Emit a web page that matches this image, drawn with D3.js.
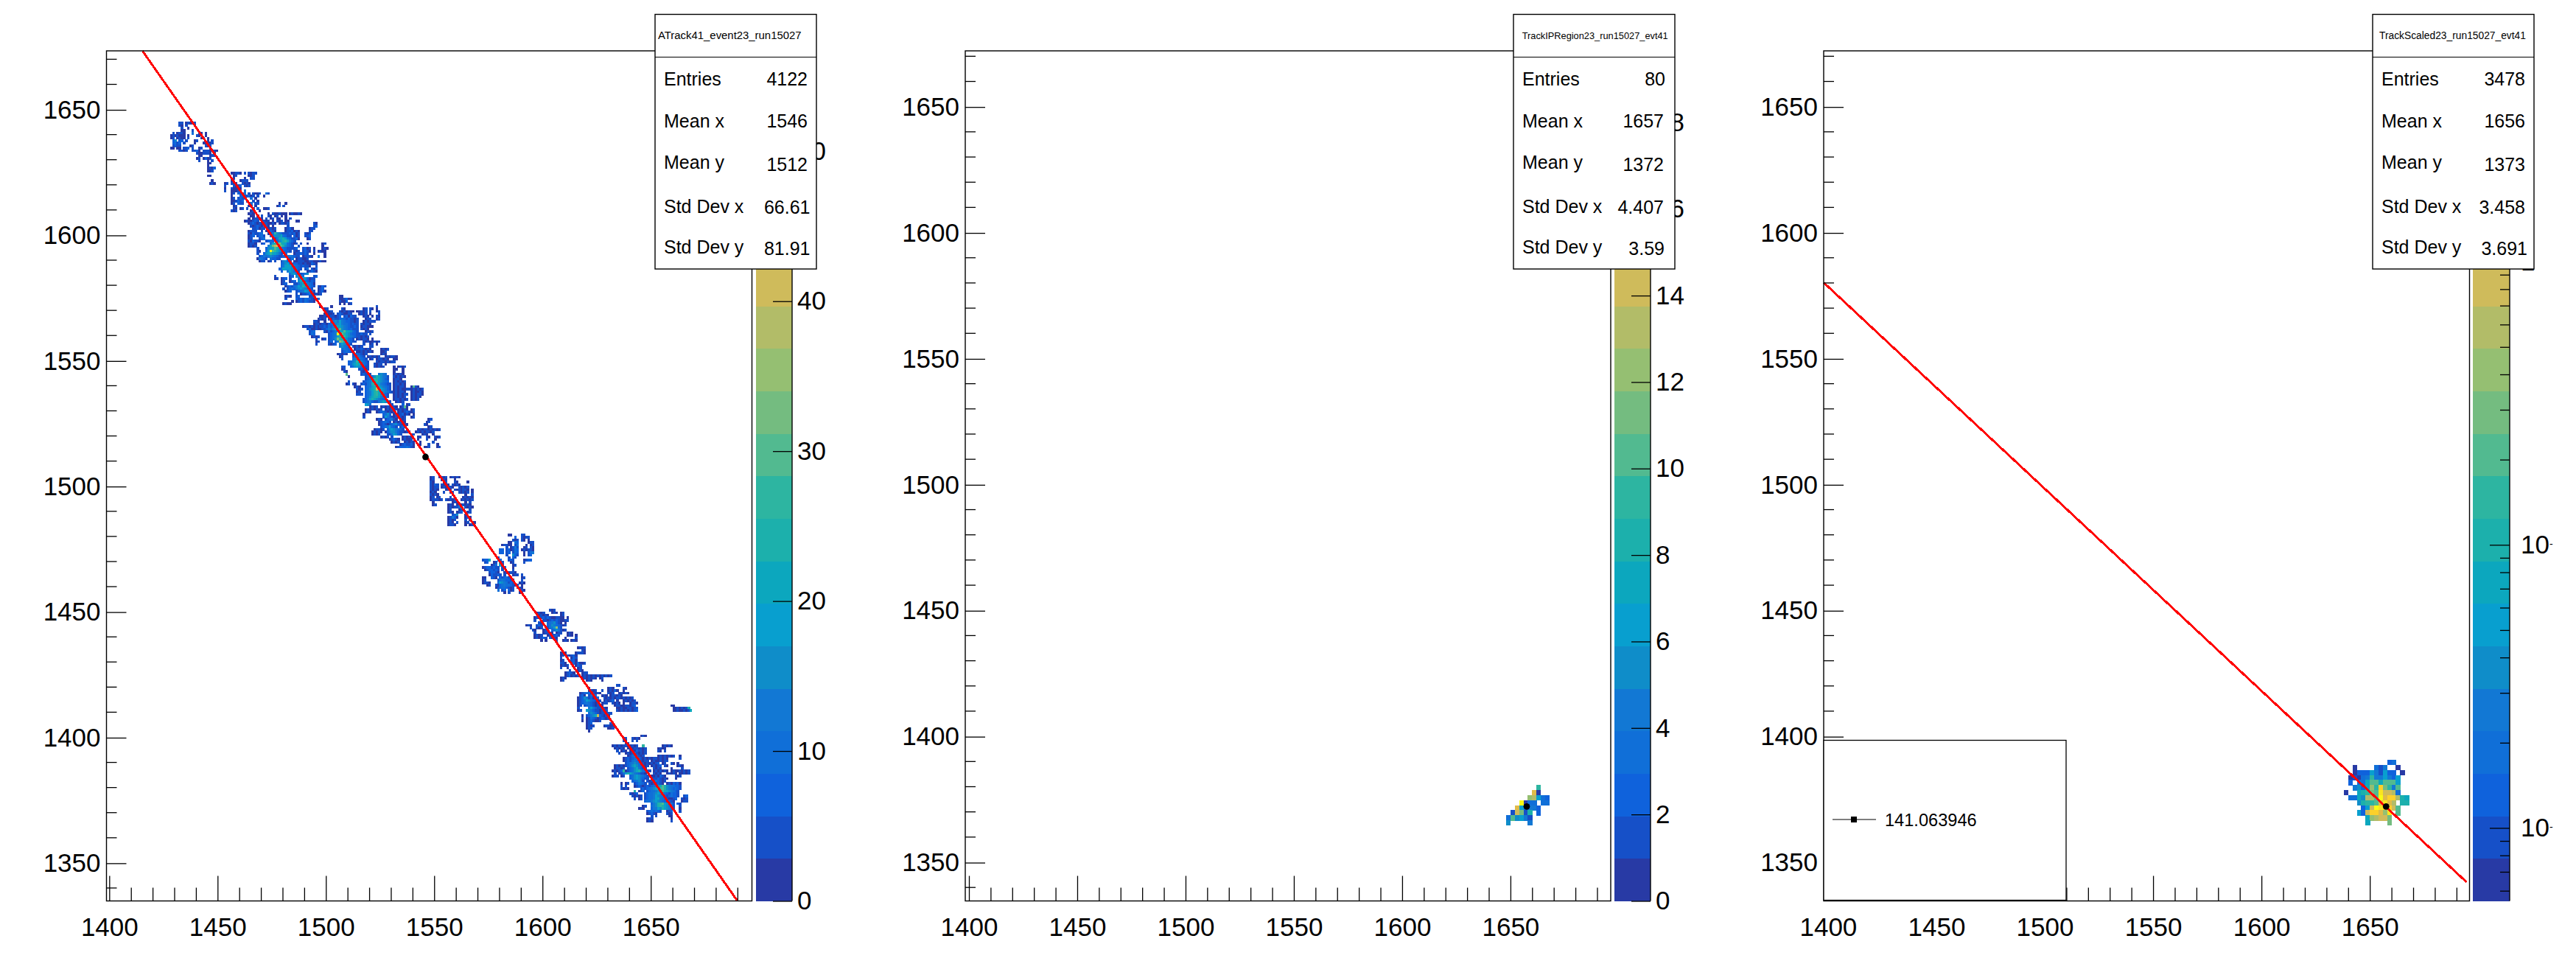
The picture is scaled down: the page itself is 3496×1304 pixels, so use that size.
<!DOCTYPE html>
<html><head><meta charset="utf-8">
<script src="https://cdn.jsdelivr.net/npm/d3@7"></script>
<style>html,body{margin:0;padding:0;background:#fff}svg{display:block}text{font-family:"Liberation Sans",Arial,sans-serif;fill:#000}</style>
</head><body><svg id="c" width="3496" height="1304"></svg>
<script>
// palette levels, darkest first
const palette=["#283AA5","#1650C8","#0F62DC","#106FD8","#1278D4","#0F8DC9","#089FCF","#0CA7BE","#1CB0AC","#2DB5A1","#52BA90","#74BC80","#95BF72","#B2BC68","#CFBB5B","#E0BB48","#F2C03A","#FDD02A","#FBE51E","#FAFB14"];
const xMajor=[1400,1450,1500,1550,1600,1650];
const yMajor=[1350,1400,1450,1500,1550,1600,1650];
const xMinor=[1410,1420,1430,1440,1460,1470,1480,1490,1510,1520,1530,1540,1560,1570,1580,1590,1610,1620,1630,1640,1660,1670,1680,1690];
const yMinor=[1340,1360,1370,1380,1390,1410,1420,1430,1440,1460,1470,1480,1490,1510,1520,1530,1540,1560,1570,1580,1590,1610,1620,1630,1640,1660,1670];
const zTicks1=[0,10,20,30,40,50];
const zTicks2=[0,2,4,6,8,10,12,14,16,18];
const zMajor3=[1e-2,1e-1,1];
const zMinor3=[6e-3,7e-3,8e-3,9e-3,2e-2,3e-2,4e-2,5e-2,6e-2,7e-2,8e-2,9e-2,2e-1,3e-1,4e-1,5e-1,6e-1,7e-1,8e-1,9e-1];
const statNames=["Entries","Mean x","Mean y","Std Dev x","Std Dev y"];
const stats1=["4122","1546","1512","66.61","81.91"];
const stats2=["80","1657","1372","4.407","3.59"];
const stats3=["3478","1656","1373","3.458","3.691"];
const titles=["ATrack41_event23_run15027","TrackIPRegion23_run15027_evt41","TrackScaled23_run15027_evt41"];
const fitLine1=[[1415.3,1673.2],[1690,1334.7]];
const fitLine3=[[1398,1580],[1694.6,1342]];
const means=[[1546,1511.5],[1657.5,1372],[1657.5,1372]];
const legendText="141.063946";

// panel 1 cells: strings of palette levels (base 20), one char per x unit, one row per y unit
const clusterA=[1428,1644,[
"    11 01001","    10 1   0","     1  0","     00   1"," 1 0110   3  00 0","0101000 0   10  0","01 0100 1     01 0"," 25 12 1   01    0 1"," 2312 1    0   00001"," 1211    01     101","00 00 112 1  01   1","    1101  1120 1110010","            1001110 0","             00   011","            01 0201","             1   0 1","                 00","                 0","                 0102","                 001","","                 00","","                   0","                  010"]];
const clusterC=[1453,1624,[
"   00110 1 1011","    01     001","    0    0  11","   0   0111","01 100  1010","1   1012 101","0  10000","1  00012 3","   01 2123 1 1001  31","   0   2211201 1  0","   01 1212  3 0","   001212 1  1 0","   01 211   3 11         0  0","    01     00 0         02 1","    10 01 1  1 2  001","   101      01  0","           010      0 1001000 010010","            00 0 1  10 01 0 0","           0 01100 1 01 00  0 1","         0100121 0101 0 101 00   00",
"           0121010110010 01101           10",
"            101210210 0      1           12",
"             112011 0101    0120       011",
"           0111  1 01210    0112010    11",
"           1021123  013954211121201  101",
"           012 1231  2355573211 201  112",
"           01   123   2147786321120   01",
"           102110  1232 256897421",
"           0110  12  3689b87632101 1  0      01",
"           0101     47bdf9a85321  1          0",
"               1   2567a8543211112  1201 0   010",
"               10  36ja97543221 101 1210 1 0100",
"               1  256976531 2   0112121  0    0",
"                1243454321122343211 01110  3  0",
"               04321 32211   213 011001",
"                011 01 1  14521 001110011000100",
"                          23564322110100210",
"                          24676543212110  1",
"                         23766654321 13 102",
"                          2  465321   01210",
"                              356321245",
"                       1      12 5643    12",
"                       01 012 1   47652011",
"                          01  012 57632121",
"                          012   1135764320",
"                            01213465874321 1021",
"                           1 123245654321  012",
"                            012  123465321 0120",
"                                 1 0112310101",
"                            010  12    112           00",
"                            1    21213221012         001201",
"                               0 012132110           1002",
"                           0100                      0 0 01"]];
const clusterD=[1489,1571,[
"        0    0                    1",
"          01      10        01 10 0",
"           001   1010100 00101 1  01",
"          01001 1210011   0101 0   1",
"        0010011012 120211   010 0 10",
"       0101 10211232121101   011  01",
"     110  0  2354643221101  010111",
"     011011023345643321211 10110",
"01101010112132467654321121 011000",
"  120010011243576a54322111 1010",
"   123    102124367a765321   0101",
"   132      1234j9a86532211211 1",
"    0101    123468a975432110101",
"      1  01 1235b9875321 010110 0",
"      01    12 24ca754211   10100101",
"      1     1012 465321     1  01 0",
"                 45431 10101   11",
"                  34321 01121010    0101",
"                  123211 00101010   001",
"                01010  1232101      010",
"                 01    123421 010101  010110",
"                  1    3454321 01 011010  00",
"                     2345975321   101101011",
"                     2356875321  1011 0",
"                  11  235653211  10101    0 0101",
"                  01      12101           00  0",
"                   10      101            0   0",
"                    a      121 1   3543   01010",
"                     0       12235875431  101010",
"                             12349865421  0110",
"                     1      123468975432  010101",
"                    01 10  12134896643211 011010",
"                        010  234689754321 010110  0a10",
"                         101 23578e965421 01010011010101",
"                         01  2346897654321010110  010010",
"                         111 23468975421  0101011 010110",
"                             23578864321  010101  01010",
"                            12468754321   0110101 0101",
"                            1234211357531  0101",
"                             653         1    2 01",
"                               0101 01010110 01a0",
"                             01010101 01010101010 01",
"                             010  012310101 01012101",
"                            0        2352 01012010 0",
"                            1        16421010101  01",
"                                  010 123410 101          01",
"                                   012321 010110         01",
"                                   01210124521010       10",
"                                    12346321 121          01",
"                                 01101 25654321 1    01011010101",
"                                01010 024554211010  010101101",
"                                0101   1136521    01   010  0",
"                                    0101 1    01010  01  10  101",
"                                        01210 01001  0   1   0",
"                                         0101  01010  0     1",
"                                             0121120  0   1   0",
"                                           012223210    001   01"]];
const clusterE=[1548,1503,[
"01  0101 01010","01   010   0","10    01   10    0","1021 1010 1010","1011 010110  10101","1010   010 1010110 0","010   1  01  10101 0","1010      1     0  1","01 01    1     01010","011101 10101  010101"," 0        010   0 1"," 01     010 0101010","        0101137 1010","        01   010  1","        010 012  01","          125   0","        01420   010","        0101    1 0","        010 1   01  0","        0110    0 01"]];
const clusterF=[1572,1480,[
"            00    11","               2  1011","              101 10 0","            00 32    011","         01100 13   0 01","           1 0141  01 10","        22 120132 010110","        22 12 132  0 134","           1  521  0 12","       1    1 21","1227   32   121    0122"," 12  01 71   01    1","    013 61    01","01221211 12   0"," 0122121 1    1","   12210  010110","   021121 1   011 1","00  210 212311    01","01     13432210   1","0110   26543121  010","  01  10234332101 0","      012332101 010","       3 12 201  010","          0 1    00"]];
const clusterG=[1592,1450,[
"           101","     0101   010 01","      01010     01","    01012121001100 0","    1   110121210011","      10  2345210 0","010  121  235432101","  1  101  1346c21","   10   01  2353101","    1   01120 011  010","    0101  011121   010 0","    010121 2010   0    1","       0 0    1  010 010"]];
const clusterH=[1608,1435,[
"        0101","          10","010    01110","01 10120","1    021","01   120","110  1202001","0101   021","1  0    01","    1   010","  01210   011","  0120101 01010101010101","010       0101010 01","01          010    0"]];
const clusterI=[1616,1420,[
"                  11","     0        010    10","     0101  1  01020  0"," 0123201010   101  01010"," 120 1352  010 011010","0125412012  10101011010101","01236532101 01012 0  010101","0123432101 011  1010 0  0110","01 123210110     0110011012                00","1    464211010    0010011011                00101018","01  65421101 1    1010101012                001001017","     35421011011","  0 12457e21010","  1 01321012101","  0 0121001","    012        1","    0101    01100","    011       001","     0"]];
const clusterJ=[1632,1400,[
"             010","     01  1010","     10  1 1","      01","010101100101  9        01010"," 01010 010110101     0100","  1 010 01021101     10 1","   1  0101210101","       01342101      01010101  0","     012123421010101101010     1","     012134321011 01001011","      1234543210101012 01  10 0"," 0101012357532101 01012 10    010"," 01101 123574210   1010    0    1","010129012357853211 0101010 010010101"," 1 0136875432110   1010  01010 00101","011 01  23565432110010210    101","        235653211 01121010   0","         234531 101232101","    0 01  124321 1011210 0102120","    1 1   0121012123457a85433221","    1010     1212345689a85432321","          8 012 123345797654321","        1012   1233456543213221","         10101 1233465432123221  12","          1 01 123346743210012  101","               23345654321210   011","                  24589a65431 21","              01  34589865321  1","            010   24465865421  0","                1232321  012   1","                01210    101","                  1 1     00","                011        0","                010        1"]];
const cells1=[clusterA,clusterC,clusterD,clusterE,clusterF,clusterG,clusterH,clusterI,clusterJ];

// panels 2 and 3: two-unit bins; first x edge, first (top) y edge, rows
const cells2=[1648,1378.5,[
"       9","      f0","     cd632","   j033 33","  f63442"," 1eb18 2","3a5641","5    4"]];
const cells3=[1638,1388.5,[
"          23","  0    314  0","  0222641622 0"," 010349446426"," 2 337aa7aaa6","  4527c9hb94a","0  789baieed3"," 3375ddajfhhd87","   5899afifd 88","    26ejihhea","   62ehhfci a","     7cdeeb","     7    b"]];

const svg=d3.select("#c");
const colour=d3.scaleQuantize().domain([0,20]).range(palette);
const top_=69,bot=1222.5;
const panels=[
 {l:144.5,r:1020.5,dom:[1398.7,1696.7],yd:[1334.7,1673.2],pl:1026,pr:1075,box:[889,1108],stats:stats1,off:[12,12,12,8.5,8.5],titleX:893,titleSize:14.9},
 {l:1310,r:2186,dom:[1398.3,1696.3],yd:[1334.5,1672],pl:2191,pr:2240,box:[2054,2273],stats:stats2,off:[13,15,15,15,14],titleX:2065.7,titleSize:12.8},
 {l:2475,r:3351.5,dom:[1398,1696],yd:[1334.5,1672],pl:3356,pr:3406,box:[3220,3439],stats:stats3,off:[12,12,12,12,9],titleX:3229,titleSize:13.8}
];
const labelBase=[116,173,229,289,344], valueBase=[116,173,232,290,346];

panels.forEach((p,pi)=>{
 const x=d3.scaleLinear().domain(p.dom).range([p.l,p.r]);
 const y=d3.scaleLinear().domain(p.yd).range([bot,top_]);
 const g=svg.append("g");
 // cells
 const cg=g.append("g").attr("shape-rendering","crispEdges");
 function draw(x0,yTop,rows,bin){
  rows.forEach((s,ri)=>{[...s].forEach((c,i)=>{
    if(c===" ")return;
    const lev=parseInt(c,20), cx=x0+i*bin, cy=yTop-ri*bin;
    cg.append("rect").attr("x",x(cx)).attr("y",y(cy+bin))
      .attr("width",x(cx+bin)-x(cx)+.4).attr("height",y(cy)-y(cy+bin)+.4)
      .attr("fill",colour(lev+.5));
  });});
 }
 if(pi===0) cells1.forEach(c=>draw(c[0],c[1],c[2],1));
 if(pi===1) draw(cells2[0],cells2[1],cells2[2],2);
 if(pi===2) draw(cells3[0],cells3[1],cells3[2],2);
 // fit line
 const fit=pi===0?fitLine1:pi===2?fitLine3:null;
 if(fit) g.append("path").attr("d",d3.line().x(d=>x(d[0])).y(d=>y(d[1]))(fit)).attr("stroke","#f00").attr("stroke-width",3).attr("shape-rendering","crispEdges").attr("fill","none");
 // mean marker
 g.append("circle").attr("cx",x(means[pi][0])).attr("cy",y(means[pi][1])).attr("r",4.4).attr("fill","#000");
 // frame
 g.append("rect").attr("x",p.l).attr("y",top_).attr("width",p.r-p.l).attr("height",bot-top_).attr("fill","none").attr("stroke","#000").attr("stroke-width",1.4);
 // axes
 const style=a=>{a.select(".domain").remove();a.selectAll("line").attr("stroke","#000").attr("stroke-width",1.3);a.selectAll("text").attr("font-size",35).attr("font-family","'Liberation Sans'");};
 g.append("g").attr("transform",`translate(0,${bot})`).call(d3.axisBottom(x).tickValues(xMinor).tickSize(-18).tickFormat("")).call(style);
 g.append("g").attr("transform",`translate(0,${bot})`).call(d3.axisBottom(x).tickValues(xMajor).tickSize(-34).tickPadding(23).tickFormat(d3.format("d"))).call(style);
 g.append("g").attr("transform",`translate(${p.l},0)`).call(d3.axisLeft(y).tickValues(yMinor).tickSize(-14).tickFormat("")).call(style);
 g.append("g").attr("transform",`translate(${p.l},1)`).call(d3.axisLeft(y).tickValues(yMajor).tickSize(-27).tickPadding(8).tickFormat(d3.format("d"))).call(style);
 // palette
 const band=d3.scaleLinear().domain([0,20]).range([bot,top_]);
 g.append("g").attr("shape-rendering","crispEdges").selectAll("rect").data(palette).join("rect")
  .attr("x",p.pl).attr("width",p.pr-p.pl).attr("y",(d,i)=>band(i+1)).attr("height",(d,i)=>band(i)-band(i+1)+.5).attr("fill",d=>d);
 const zAxisG=g.append("g").attr("transform",`translate(${p.pr},0)`);
 if(pi<2){
  const z=d3.scaleLinear().domain([0,pi===0?56.7:19.66]).range([bot,top_]);
  zAxisG.call(d3.axisRight(z).tickValues(pi===0?zTicks1:zTicks2).tickSize(-26).tickPadding(7).tickFormat(d3.format("d"))).call(style);
 }else{
  const z=d3.scaleLog().domain([1e-2*Math.pow(10,-99/384),1e-2*Math.pow(10,1054/384)]).range([bot,top_]);
  zAxisG.call(d3.axisRight(z).tickValues(zMinor3).tickSize(-13).tickFormat("")).call(style);
  const maj=g.append("g").attr("transform",`translate(${p.pr},0)`);
  maj.call(d3.axisRight(z).tickValues(zMajor3).tickSize(-27).tickPadding(15).tickFormat(d=>d===1?"1":"10")).call(style);
  maj.selectAll("text").filter(d=>d<1).append("tspan").attr("font-size",14).attr("dy","-0.6em").text("-");
 }
 g.append("line").attr("x1",p.pr).attr("x2",p.pr).attr("y1",top_).attr("y2",bot).attr("stroke","#000").attr("stroke-width",1.4);
 // stats box
 const b=g.append("g");
 b.append("rect").attr("x",p.box[0]).attr("y",19.5).attr("width",p.box[1]-p.box[0]).attr("height",345.5).attr("fill","#fff").attr("stroke","#000").attr("stroke-width",1.4);
 b.append("line").attr("x1",p.box[0]).attr("x2",p.box[1]).attr("y1",77.5).attr("y2",77.5).attr("stroke","#000").attr("stroke-width",1.2);
 b.append("text").attr("x",p.titleX).attr("y",53).attr("font-size",p.titleSize).text(titles[pi]);
 statNames.forEach((n,i)=>{
  b.append("text").attr("x",p.box[0]+12).attr("y",labelBase[i]).attr("font-size",25).text(n);
  b.append("text").attr("x",p.box[1]-p.off[i]).attr("y",valueBase[i]).attr("font-size",25).attr("text-anchor","end").text(p.stats[i]);
 });
 // legend
 if(pi===2){
  const lg=g.append("g");
  lg.append("rect").attr("x",p.l).attr("y",1004.5).attr("width",329).attr("height",217).attr("fill","#fff").attr("stroke","#000").attr("stroke-width",1.3);
  lg.append("line").attr("x1",2487).attr("x2",2546).attr("y1",1112).attr("y2",1112).attr("stroke","#000").attr("stroke-width",1.2);
  lg.append("rect").attr("x",2512).attr("y",1108).attr("width",8).attr("height",8).attr("fill","#000");
  lg.append("text").attr("x",2558).attr("y",1121).attr("font-size",23.6).text(legendText);
 }
});
</script></body></html>
